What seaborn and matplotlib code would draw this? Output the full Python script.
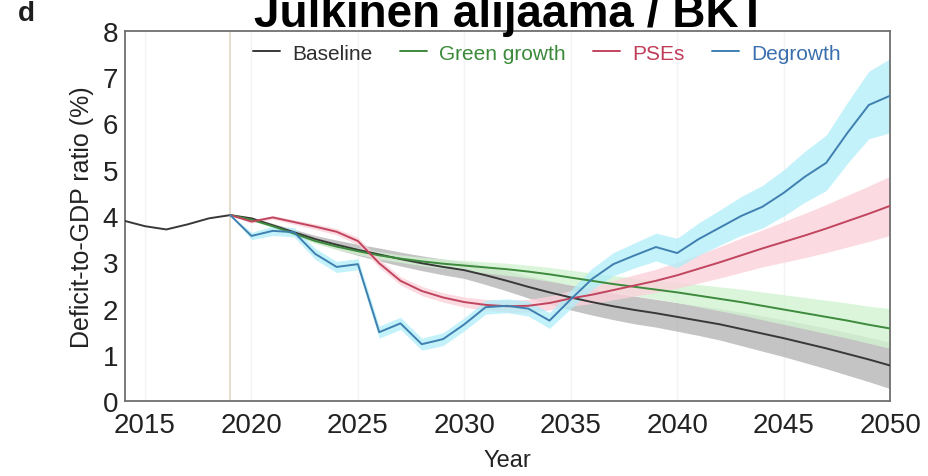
import matplotlib
matplotlib.use('Agg')

import numpy as np
import pandas as pd
import seaborn as sns
import matplotlib.pyplot as plt
from matplotlib.lines import Line2D

# --- data ---
hist_years = [2014, 2015, 2016, 2017, 2018]
hist_baseline = [3.90, 3.78, 3.71, 3.82, 3.95]

years = list(range(2019, 2051))
baseline = [4.02, 3.95, 3.80, 3.65, 3.50, 3.38, 3.27, 3.17, 3.07, 2.98, 2.90,
            2.83, 2.72, 2.60, 2.47, 2.35, 2.24, 2.14, 2.05, 1.97, 1.90, 1.82,
            1.74, 1.66, 1.56, 1.46, 1.36, 1.25, 1.14, 1.02, 0.90, 0.77]
green = [4.02, 3.92, 3.78, 3.62, 3.46, 3.34, 3.24, 3.15, 3.08, 3.02, 2.97,
         2.93, 2.89, 2.85, 2.80, 2.74, 2.67, 2.60, 2.53, 2.47, 2.41, 2.35,
         2.28, 2.21, 2.14, 2.06, 1.98, 1.90, 1.82, 1.74, 1.65, 1.57]
pses = [4.02, 3.88, 3.97, 3.87, 3.77, 3.66, 3.46, 2.98, 2.60, 2.38, 2.24,
        2.14, 2.08, 2.05, 2.06, 2.12, 2.22, 2.30, 2.40, 2.50, 2.60, 2.72,
        2.86, 3.00, 3.15, 3.30, 3.44, 3.58, 3.73, 3.89, 4.05, 4.22]
degrowth = [4.02, 3.57, 3.68, 3.65, 3.18, 2.90, 2.96, 1.49, 1.68, 1.23, 1.34,
            1.66, 2.03, 2.06, 2.00, 1.74, 2.20, 2.64, 2.96, 3.15, 3.33, 3.20,
            3.50, 3.75, 4.00, 4.20, 4.50, 4.85, 5.15, 5.80, 6.40, 6.60]

# uncertainty half-widths of the shaded bands
baseline_err = [0, .02, .04, .06, .08, .10, .12, .14, .15, .16, .17, .18, .20,
                .22, .24, .26, .27, .28, .29, .30, .30, .31, .32, .34, .36,
                .38, .40, .42, .44, .46, .48, .50]
green_err = [0, .02, .03, .04, .05, .06, .07, .08, .08, .09, .10, .11, .12,
             .13, .14, .15, .16, .17, .18, .19, .20, .22, .24, .26, .28, .30,
             .32, .34, .36, .38, .40, .43]
pses_err = [0, .03, .04, .05, .06, .07, .08, .09, .09, .10, .10, .11, .12,
            .13, .14, .15, .17, .19, .21, .23, .25, .28, .31, .34, .37, .40,
            .44, .48, .52, .56, .60, .64]
degrowth_err = [0, .08, .10, .10, .12, .12, .12, .13, .13, .13, .14, .14, .15,
                .15, .16, .17, .20, .23, .25, .27, .30, .32, .35, .38, .42,
                .46, .50, .55, .60, .66, .73, .80]

scenarios = ['Baseline', 'Green growth', 'PSEs', 'Degrowth']
line_colors = ['#383838', '#3d8a3d', '#c2455f', '#3f80b0']
band_colors = ['#b0b0b0', '#d2f3d2', '#fbd3da', '#b0eef9']
text_colors = ['#2e2e2e', '#3a8a3a', '#c03d5a', '#3a6fae']

rows = []
for y, v in zip(hist_years, hist_baseline):
    rows.append(('Baseline', y, v))
for name, vals in zip(scenarios, [baseline, green, pses, degrowth]):
    for y, v in zip(years, vals):
        rows.append((name, y, v))
df = pd.DataFrame(rows, columns=['scenario', 'year', 'value'])

sns.set_style('white')
plt.rcParams['font.family'] = ['Liberation Sans', 'DejaVu Sans']

fig = plt.figure(figsize=(9.29, 4.77), dpi=100)
ax = fig.add_axes([0.1346, 0.157, 0.8235, 0.776])

for x in [2015, 2020, 2025, 2030, 2035, 2040, 2045]:
    ax.axvline(x, color='#f3f3f3', lw=1, zorder=0)
ax.axvline(2019, color='#e4dac8', lw=1.3, zorder=1)

errs = [baseline_err, green_err, pses_err, degrowth_err]
vals_all = [baseline, green, pses, degrowth]
for vals, err, c, a in zip(vals_all, errs, band_colors, [0.75, 0.8, 0.8, 0.75]):
    v = np.array(vals)
    e = np.array(err)
    ax.fill_between(years, v - e, v + e, color=c, alpha=a, lw=0, zorder=2)

sns.lineplot(data=df, x='year', y='value', hue='scenario', hue_order=scenarios,
             palette=dict(zip(scenarios, line_colors)), lw=1.4, ax=ax,
             legend=False, zorder=3)

ax.set_xlim(2014.06, 2050)
ax.set_ylim(0, 8)
ax.set_xticks([2015, 2020, 2025, 2030, 2035, 2040, 2045, 2050])
ax.set_yticks(range(0, 9))
ax.tick_params(direction='in', length=6, width=1, colors='#555555',
               labelsize=20, labelcolor='#222222')
ax.tick_params(axis='x', pad=8)
ax.tick_params(axis='y', pad=5)
ax.set_xlabel('Year', fontsize=17, color='#222222', labelpad=8)
ax.set_ylabel('Deficit-to-GDP ratio (%)', fontsize=18, color='#222222', labelpad=6)
for s in ax.spines.values():
    s.set_color('#707070')
    s.set_linewidth(1.3)

handles = [Line2D([], [], color=c, lw=1.4) for c in line_colors]
leg = ax.legend(handles, scenarios, loc='center left', bbox_to_anchor=(0.167, 0.94),
                ncol=4, frameon=False, fontsize=15, handlelength=1.3,
                handletextpad=0.6, columnspacing=1.3, borderpad=0, borderaxespad=0)
for t, c in zip(leg.get_texts(), text_colors):
    t.set_color(c)

fig.text(0.549, 0.943, 'Julkinen alijäämä / BKT', ha='center', va='baseline',
         fontsize=33, fontweight='bold', color='black')
fig.text(0.019, 0.957, 'd', ha='left', va='baseline', fontsize=20,
         fontweight='bold', color='#1e1e1e')

fig.savefig('out.png', dpi=100)
